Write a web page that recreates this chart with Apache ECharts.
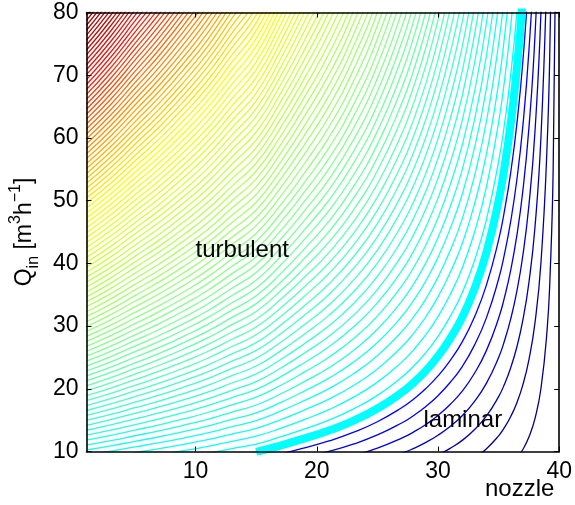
<!doctype html>
<html lang="en">
<head>
<meta charset="UTF-8" />
<title>nozzle flow regimes</title>
<script src="https://fastly.jsdelivr.net/npm/echarts@6/dist/echarts.min.js"></script>
<style>
  * { margin: 0; padding: 0; }
  html, body, #chart { width: 100%; height: 100%; overflow: hidden; background: #fff; }
</style>
</head>
<body>
<div id="chart"></div>
<script>
// nozzle index (x axis)
const nozzle = [1, 3, 5, 7, 9, 11, 13, 15, 17, 19, 21, 23, 25, 27, 28, 29, 30, 31, 32, 33,
  34, 35, 35.5, 36, 36.5, 37, 37.5, 38, 38.5, 39, 39.25, 39.5, 39.75];
// flow rate on the critical curve (thick cyan line), m3/h
const qCritical = [6.3, 6.7, 7.15, 7.6, 8.1, 8.65, 9.3, 9.95, 10.95, 12.1, 13.35, 14.9, 16.85, 19.4, 21.0, 22.9, 25.2, 28.0, 31.4, 35.9,
  41.8, 50.0, 55.5, 62.3, 71.0, 82.5, 98.5, 122, 161, 235, 306, 438, 770];
const qMin = 10, qMax = 80;
const reCritical = 2300;
const reStep = 287.5;     // contour spacing
const levelCount = 102;
// contour colours keyed by level number
const colorLevels = [1, 7, 8, 34, 61, 73, 87, 101];
const colorStops = ['#000080', '#0000ff', '#00ffff', '#8cff8c', '#ffff00', '#ff9a00', '#f01e14', '#960000'];
const xTicks = [10, 20, 30, 40];
const notes = [
  { text: 'turbulent', x: 10, q: 42 },
  { text: 'laminar', x: 28.8, q: 15 }
];

const FONT = '"Liberation Sans", Arial, Helvetica, sans-serif';

function hexRgb(h) {
  return [1, 3, 5].map(i => parseInt(h.substr(i, 2), 16));
}
function levelColor(k) {
  let i = 0;
  while (i < colorLevels.length - 2 && k > colorLevels[i + 1]) i++;
  const t = Math.max(0, Math.min(1, (k - colorLevels[i]) / (colorLevels[i + 1] - colorLevels[i])));
  const a = hexRgb(colorStops[i]), b = hexRgb(colorStops[i + 1]);
  const c = a.map((v, j) => Math.round(v + (b[j] - v) * t));
  return 'rgb(' + c.join(',') + ')';
}

const series = [];
for (let k = 1; k <= levelCount; k++) {
  const ratio = k * reStep / reCritical;
  series.push({
    type: 'line',
    data: nozzle.map((x, i) => [x, qCritical[i] * ratio]),
    symbol: 'none',
    silent: true,
    smooth: 0.5,
    lineStyle: { width: 1.3, color: levelColor(k) }
  });
}
// critical curve, only drawn inside the flow range shown
series.push({
  type: 'line',
  data: nozzle.map((x, i) => [x, qCritical[i]]).filter(p => p[1] >= qMin * 0.99),
  symbol: 'none',
  silent: true,
  smooth: 0.5,
  lineStyle: { width: 8, color: '#00ffff', cap: 'butt' }
});

const axisText = { color: '#000', fontSize: 23, fontFamily: FONT };
const boxLine = { show: true, lineStyle: { color: '#000', width: 1.6 } };
const tick = { show: true, inside: true, length: 5, lineStyle: { color: '#000', width: 1 } };

const option = {
  animation: false,
  grid: { left: 83, right: 15, top: 12.5, bottom: 53.5 },
  xAxis: [
    {
      type: 'value', min: 1, max: 40, position: 'bottom', z: 10,
      axisLine: boxLine,
      axisTick: Object.assign({ customValues: xTicks }, tick),
      axisLabel: Object.assign({ customValues: xTicks, margin: 9 }, axisText),
      splitLine: { show: false }
    },
    {
      type: 'value', min: 1, max: 40, position: 'top', z: 10,
      axisLine: boxLine,
      axisTick: Object.assign({ customValues: xTicks }, tick),
      axisLabel: { show: false },
      splitLine: { show: false }
    }
  ],
  yAxis: [
    {
      type: 'value', min: qMin, max: qMax, interval: 10, position: 'left', z: 10,
      axisLine: boxLine, axisTick: tick,
      axisLabel: Object.assign({ margin: 8 }, axisText),
      splitLine: { show: false },
      name: '{t|Q}{sub|in}{t| [m}{sup|3}{t|h}{sup|\u22121}{t|]}',
      nameLocation: 'middle',
      nameGap: 44,
      nameTextStyle: {
        color: '#000', fontFamily: FONT,
        rich: {
          t: { fontSize: 23, lineHeight: 34, verticalAlign: 'middle', fontFamily: FONT, color: '#000' },
          sub: { fontSize: 16, lineHeight: 16, verticalAlign: 'bottom', fontFamily: FONT, color: '#000' },
          sup: { fontSize: 16, lineHeight: 16, verticalAlign: 'top', fontFamily: FONT, color: '#000' }
        }
      }
    },
    {
      type: 'value', min: qMin, max: qMax, interval: 10, position: 'right', z: 10,
      axisLine: boxLine, axisTick: tick,
      axisLabel: { show: false },
      splitLine: { show: false }
    }
  ],
  series: series
};

const chart = echarts.init(document.getElementById('chart'));
chart.setOption(option);

const graphics = notes.map(n => {
  const p = chart.convertToPixel({ gridIndex: 0 }, [n.x, n.q]);
  return {
    type: 'text', x: p[0], y: p[1], silent: true, z: 100,
    style: { text: n.text, fill: '#000', font: '24px ' + FONT, textAlign: 'left', textVerticalAlign: 'middle' }
  };
});
graphics.push({
  type: 'text', left: 485, top: 477, silent: true, z: 100,
  style: { text: 'nozzle', fill: '#000', font: '24px ' + FONT }
});
chart.setOption({ graphic: graphics });
</script>
</body>
</html>
